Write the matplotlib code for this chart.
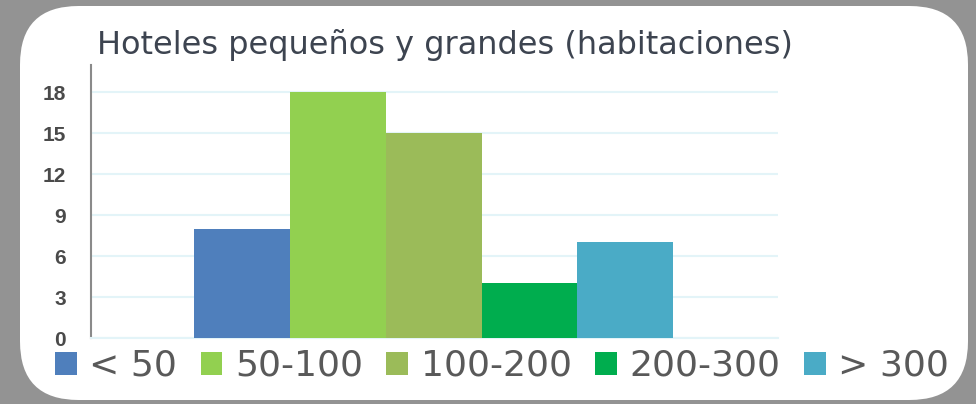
import matplotlib.pyplot as plt
from matplotlib.patches import FancyBboxPatch

# Datos
categorias = ['< 50', '50-100', '100-200', '200-300', '> 300']
hoteles = [8, 18, 15, 4, 7]
colores = ['#4f7fbc', '#92d050', '#9bbb59', '#00ad4e', '#4aabc6']
ticks_y = [0, 3, 6, 9, 12, 15, 18]

fig = plt.figure(figsize=(9.76, 4.04), dpi=100, facecolor='#939393')

# panel blanco con esquinas redondeadas
panel = FancyBboxPatch((20 / 976, 4 / 404), 948 / 976, 394 / 404,
                       boxstyle='round,pad=0,rounding_size=0.06',
                       transform=fig.transFigure, facecolor='white',
                       edgecolor='none', mutation_aspect=976 / 404, zorder=-5)
fig.patches.append(panel)

ax = fig.add_axes([91 / 976, 1 - 338 / 404, (778 - 91) / 976, (338 - 65) / 404])
ax.set_facecolor('none')

for i in range(len(categorias)):
    ax.bar(i, hoteles[i], width=1, color=colores[i], label=categorias[i], zorder=3)

ax.set_xlim(-1.57, 5.59)
ax.set_ylim(0, 20)
ax.set_yticks(ticks_y)
ax.set_yticklabels([str(v) for v in ticks_y], fontsize=15, fontweight='bold',
                   family='Liberation Sans', color='#4a4a4a')
ax.set_xticks([])
ax.grid(axis='y', color='#e3f4f8', linewidth=1.5, zorder=0)
for s in ['top', 'right']:
    ax.spines[s].set_visible(False)
ax.spines['bottom'].set_color('#e3f4f8')
ax.spines['bottom'].set_linewidth(1.5)
ax.spines['left'].set_color('#8a8a8a')
ax.spines['left'].set_linewidth(1.5)
ax.spines['left'].set_bounds(0, 20)
ax.tick_params(axis='y', length=0, pad=18)

fig.text(97 / 976, 1 - 45 / 404, 'Hoteles pequeños y grandes (habitaciones)',
         fontsize=23, color='#3d4450', family='DejaVu Sans', va='center', ha='left')

fig.legend(loc='center left', bbox_to_anchor=(55 / 976, 1 - 366 / 404),
           ncol=5, frameon=False, prop={'family': 'DejaVu Sans', 'size': 26},
           labelcolor='#595959', handlelength=0.6, handleheight=0.6,
           handletextpad=0.35, columnspacing=0.65, borderpad=0, borderaxespad=0)

fig.savefig('out.png', dpi=100, facecolor=fig.get_facecolor())
